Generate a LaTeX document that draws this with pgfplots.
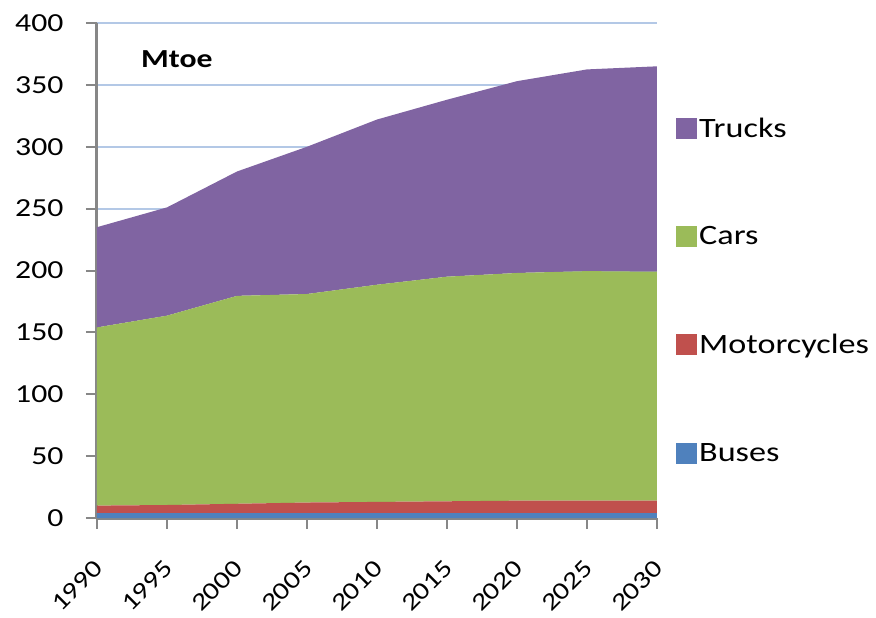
\documentclass[border=0pt]{standalone}
\usepackage{pgfplots}
\pgfplotsset{compat=1.18}
\usepackage{fontspec}
\setmainfont{Carlito}[FakeStretch=1.22]
\definecolor{trucks}{HTML}{8064A2}
\definecolor{cars}{HTML}{9BBB59}
\definecolor{motos}{HTML}{C0504D}
\definecolor{buses}{HTML}{4F81BD}
\definecolor{gridc}{HTML}{B3C8E6}
\definecolor{axisc}{HTML}{878787}
\begin{document}
\begin{tikzpicture}
\begin{axis}[
 scale only axis, width=560pt, height=495pt,
 xmin=1990, xmax=2030, ymin=0, ymax=400,
 xtick={1990,1995,...,2030}, ytick={0,50,...,400},
 stack plots=y,
 axis x line*=bottom, axis y line*=left,
 axis line style={axisc, line width=3pt},
 ymajorgrids, grid style={gridc, line width=2pt},
 tick align=outside, major tick length=11pt,
 tick style={axisc, line width=2pt},
 /pgf/number format/assume math mode=true,
 /pgf/number format/1000 sep={},
 yticklabel style={font=\fontsize{26}{31}\selectfont, xshift=-19pt},
 xticklabel style={font=\fontsize{24.5}{29}\selectfont, anchor=east, xshift=4pt, yshift=-33pt, rotate=45},
 clip=false,
 reverse legend,
 legend style={at={(rel axis cs:1.034,0.46)}, anchor=west, draw=none, fill=none,
   font=\fontsize{28}{33}\selectfont, row sep=84pt, inner sep=0pt},
 legend cell align=left,
 legend image code/.code={\fill[#1] (-8pt,-10.5pt) rectangle (13pt,10.5pt);},
]
\addplot[fill=buses, draw=none] coordinates {(1990,4)(1995,4)(2000,4)(2005,4)(2010,4)(2015,4)(2020,4)(2025,4)(2030,4)} \closedcycle;
\addlegendentry{Buses}
\addplot[fill=motos, draw=none] coordinates {(1990,6)(1995,6.5)(2000,7.5)(2005,8.5)(2010,9)(2015,9.5)(2020,10)(2025,10)(2030,10)} \closedcycle;
\addlegendentry{Motorcycles}
\addplot[fill=cars, draw=none] coordinates {(1990,144)(1995,153)(2000,168)(2005,168.5)(2010,175.5)(2015,181.5)(2020,184)(2025,185.5)(2030,185)} \closedcycle;
\addlegendentry{Cars}
\addplot[fill=trucks, draw=none] coordinates {(1990,81)(1995,87.5)(2000,100.5)(2005,119)(2010,133.5)(2015,143)(2020,155)(2025,163)(2030,166)} \closedcycle;
\addlegendentry{Trucks}
\node[anchor=west, font=\fontsize{26}{31}\selectfont\bfseries] at (axis cs:1992.9,371) {Mtoe};
\path (rel axis cs:-0.1732,-0.198) rectangle (rel axis cs:1.3911,1.0465);
\end{axis}
\end{tikzpicture}
\end{document}
